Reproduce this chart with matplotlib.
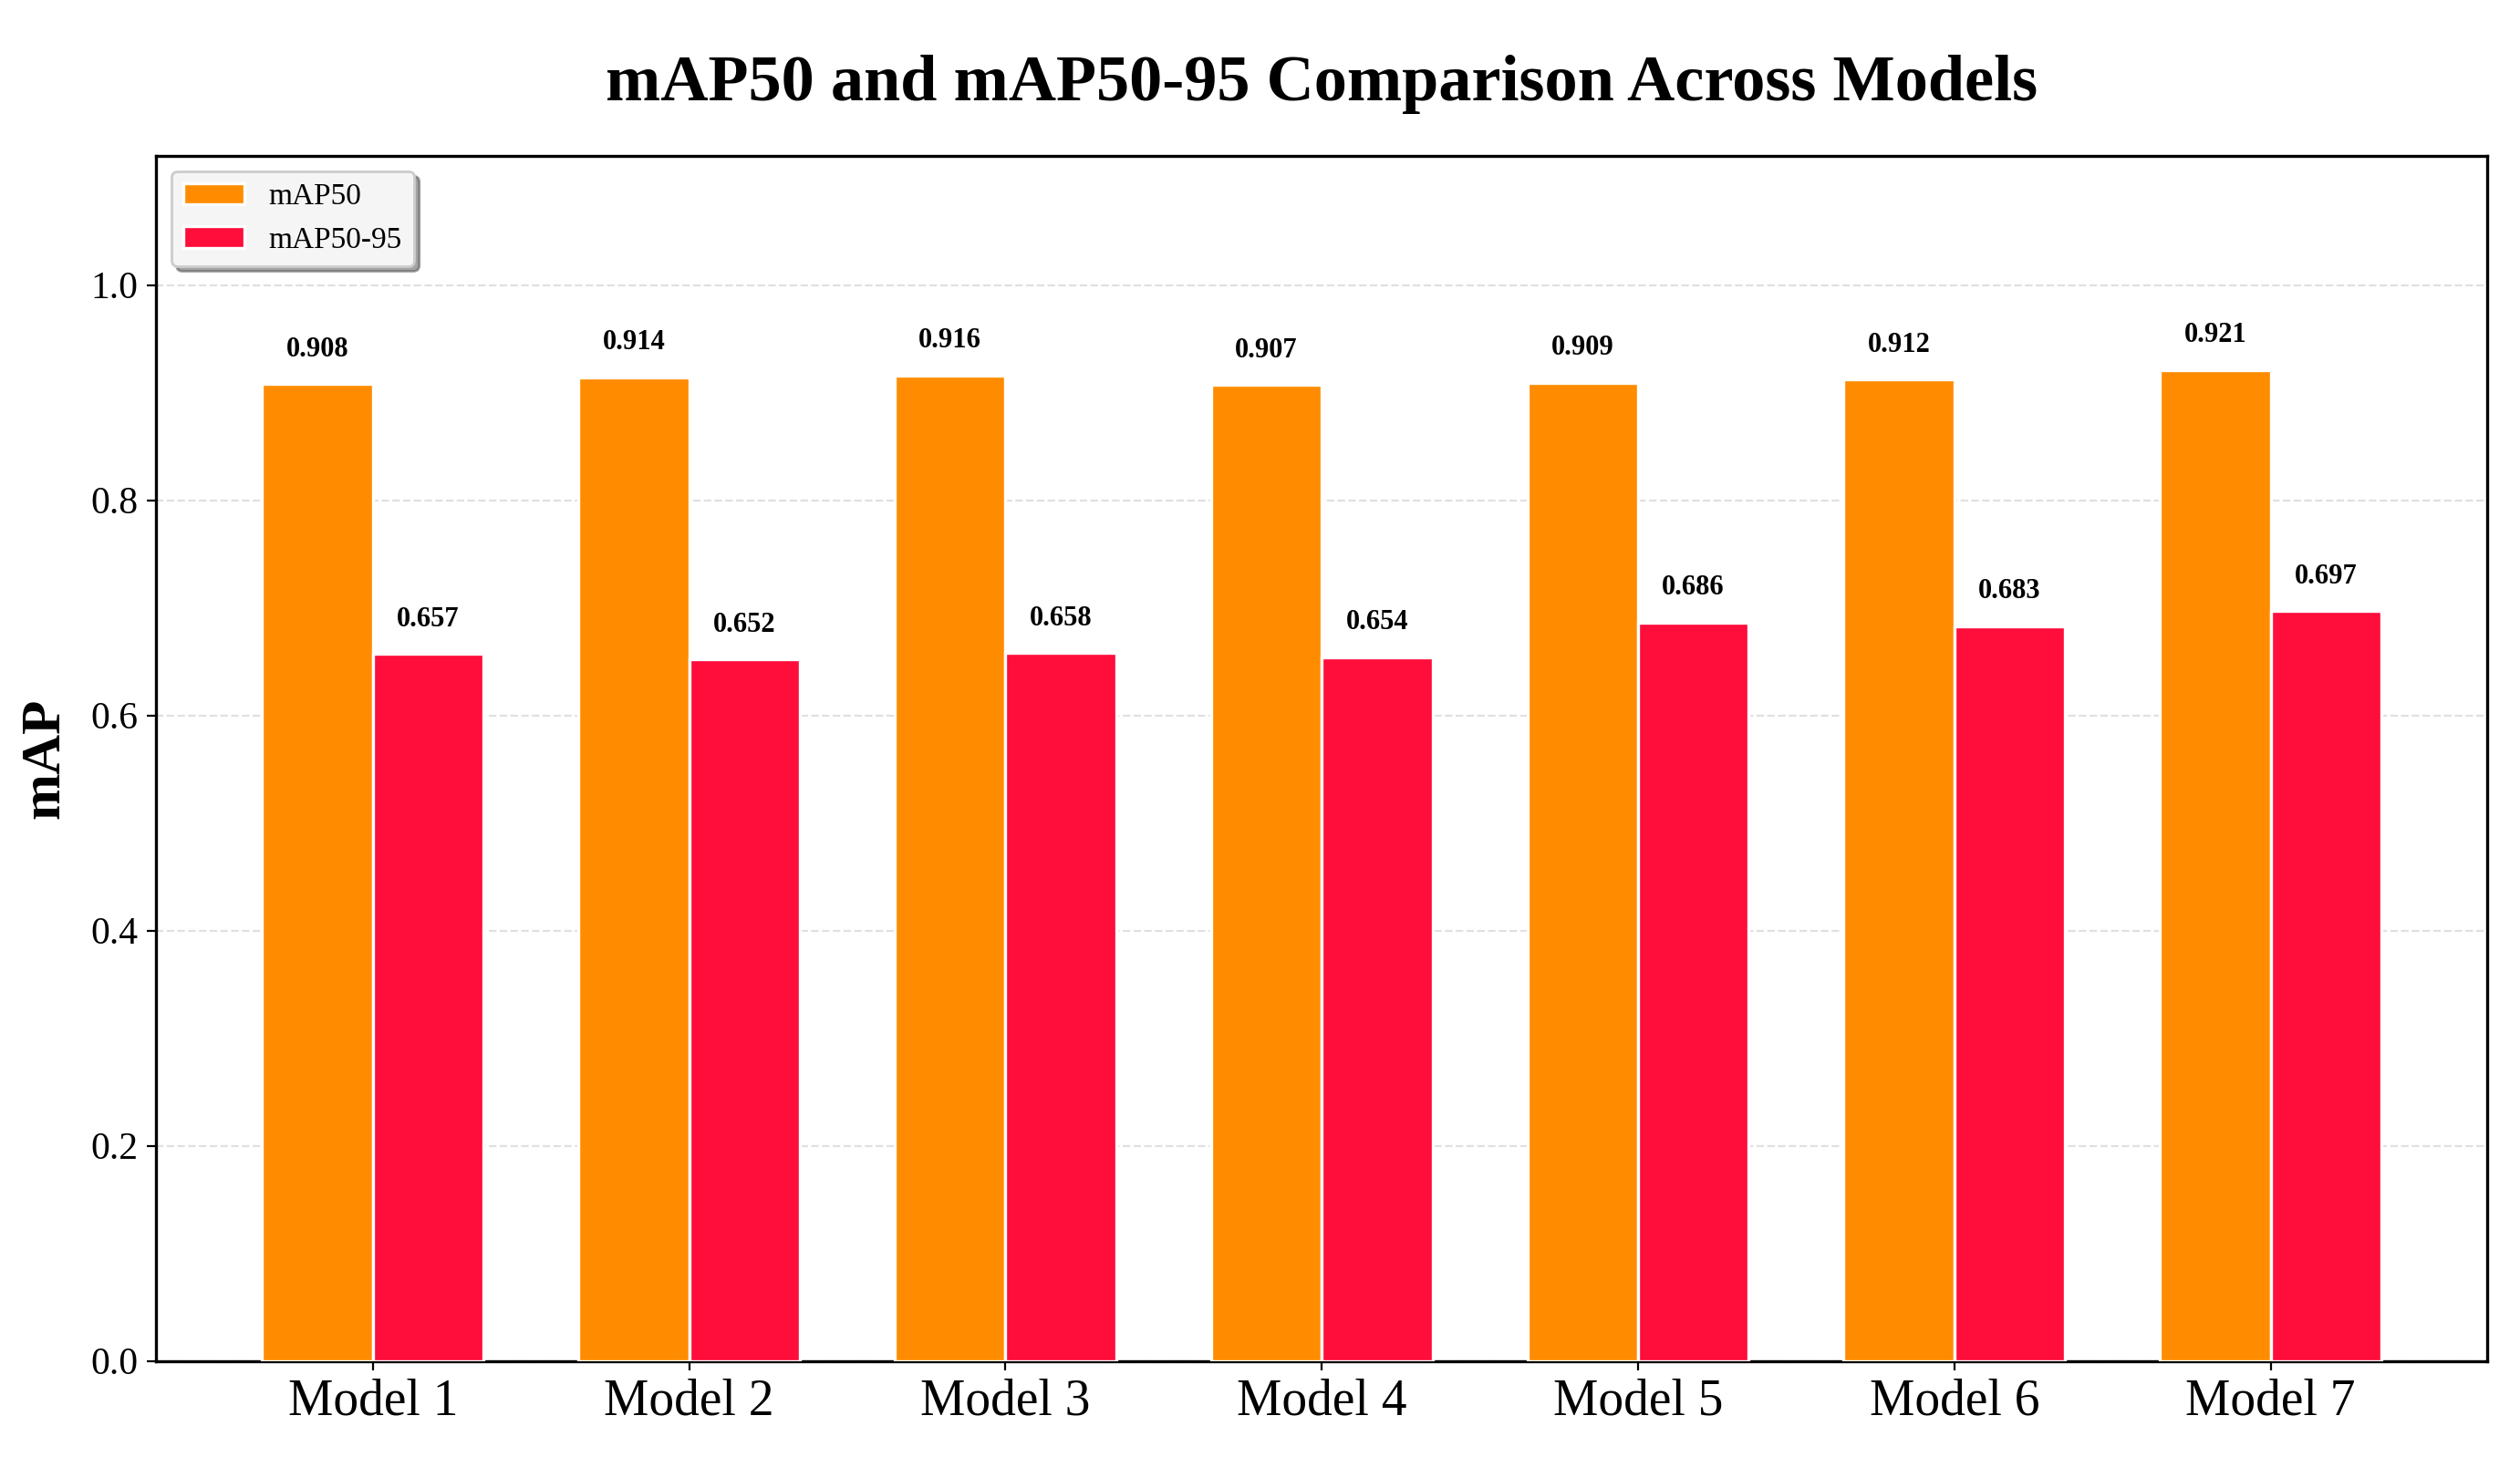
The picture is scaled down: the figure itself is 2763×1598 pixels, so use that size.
import numpy as np
import matplotlib
matplotlib.use("Agg")
import matplotlib.pyplot as plt

# data
models = ["Model 1", "Model 2", "Model 3", "Model 4", "Model 5", "Model 6", "Model 7"]
map50 = [0.908, 0.914, 0.916, 0.907, 0.909, 0.912, 0.921]
map50_95 = [0.657, 0.652, 0.658, 0.654, 0.686, 0.683, 0.697]

plt.rcParams["font.family"] = ["Liberation Serif", "DejaVu Serif"]

fig, ax = plt.subplots(figsize=(13.815, 7.99), dpi=200)
fig.subplots_adjust(left=0.062, right=0.987, top=0.893, bottom=0.066)

x = np.arange(len(models))
width = 0.35

bars1 = ax.bar(x - width / 2, map50, width, label="mAP50",
               color="#FF8C00", edgecolor="white", linewidth=1.2, zorder=3)
bars2 = ax.bar(x + width / 2, map50_95, width, label="mAP50-95",
               color="#FF0D3B", edgecolor="white", linewidth=1.2, zorder=3)

# value labels on top of each bar
for bars in (bars1, bars2):
    for b in bars:
        h = b.get_height()
        ax.text(b.get_x() + b.get_width() / 2, h + 0.02, f"{h:.3f}",
                ha="center", va="bottom", fontsize=11, fontweight="bold")

ax.set_title("mAP50 and mAP50-95 Comparison Across Models",
             fontsize=26, fontweight="bold", pad=22)
ax.set_ylabel("mAP", fontsize=22, fontweight="bold", labelpad=8)
ax.set_xticks(x)
ax.set_xticklabels(models, fontsize=20)
ax.tick_params(axis="y", labelsize=15)
ax.set_ylim(0, 1.12)
ax.set_yticks([0.0, 0.2, 0.4, 0.6, 0.8, 1.0])
ax.yaxis.grid(True, linestyle="--", color="#cccccc", alpha=0.6, zorder=0)
ax.set_axisbelow(True)

for s in ax.spines.values():
    s.set_linewidth(1.2)

leg = ax.legend(loc="upper left", fontsize=12, frameon=True, fancybox=True,
                shadow=True, facecolor="#f5f5f5", edgecolor="#cccccc")

fig.savefig("out.png", dpi=200)
